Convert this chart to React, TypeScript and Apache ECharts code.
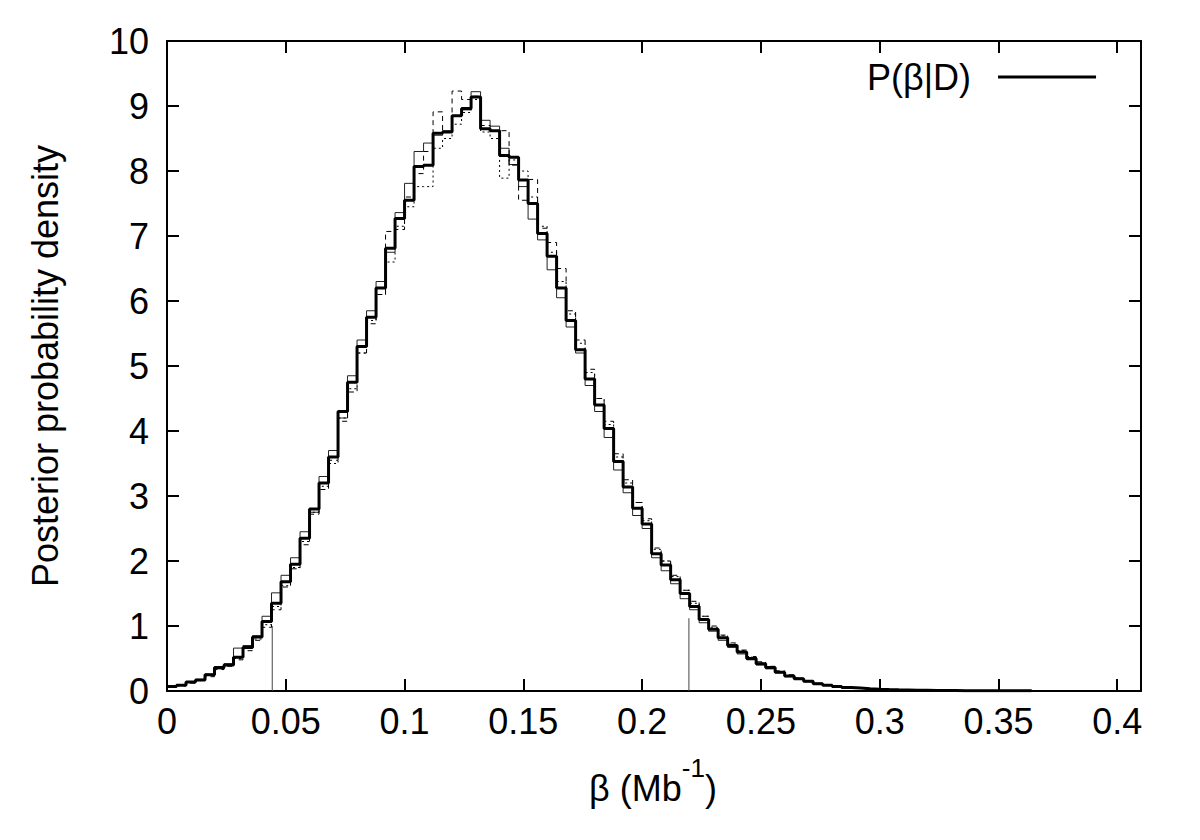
import React, { useEffect, useRef } from "react";
import * as echarts from "echarts";

// Histogram bin width (bins start at beta = 0)
const BIN_WIDTH = 0.004;

// Main posterior P(beta|D) (thick line), one value per bin
const POSTERIOR = [
  0.07, 0.09, 0.14, 0.17, 0.25, 0.36, 0.4, 0.52, 0.67, 0.83,
  1.07, 1.35, 1.68, 1.95, 2.35, 2.8, 3.2, 3.6, 4.3, 4.75,
  5.3, 5.75, 6.2, 6.81, 7.27, 7.55, 8.07, 8.09, 8.58, 8.6,
  8.85, 8.96, 9.14, 8.65, 8.62, 8.24, 8.21, 7.86, 7.5, 7.04,
  6.69, 6.2, 5.7, 5.25, 4.8, 4.4, 4.04, 3.53, 3.14, 2.81,
  2.57, 2.11, 1.94, 1.71, 1.5, 1.3, 1.1, 0.95, 0.82, 0.7,
  0.6, 0.5, 0.42, 0.36, 0.29, 0.23, 0.19, 0.15, 0.11, 0.09,
  0.07, 0.055, 0.045, 0.035, 0.028, 0.022, 0.018, 0.015, 0.012, 0.01,
  0.008, 0.007, 0.006, 0.005, 0.004, 0.004, 0.003, 0.003, 0.002, 0.002, 0.002,
];

// Thin solid run
const RUN_SOLID = [
  0.08, 0.1, 0.13, 0.18, 0.26, 0.34, 0.42, 0.66, 0.7, 0.85,
  1.15, 1.51, 1.78, 2.05, 2.45, 2.75, 3.3, 3.7, 4.2, 4.85,
  5.4, 5.85, 6.3, 6.75, 7.36, 7.81, 8.3, 8.43, 8.55, 8.62,
  8.85, 8.94, 9.22, 8.78, 8.69, 8.35, 8.1, 7.76, 7.26, 6.94,
  6.48, 6.05, 5.6, 5.2, 4.7, 4.3, 3.9, 3.4, 3.05, 2.7,
  2.5, 2.05, 1.85, 1.65, 1.42, 1.25, 1.05, 0.92, 0.78, 0.67,
  0.57, 0.48, 0.4, 0.34, 0.28, 0.22, 0.18, 0.14, 0.11, 0.085,
  0.065, 0.05, 0.04, 0.032, 0.025, 0.02, 0.016, 0.013, 0.011, 0.009,
  0.008, 0.007, 0.006, 0.005, 0.004, 0.003, 0.003, 0.002, 0.002, 0.002, 0.001,
];

// Dashed run
const RUN_DASHED = [
  0.06, 0.08, 0.12, 0.16, 0.22, 0.33, 0.38, 0.48, 0.62, 0.78,
  0.98, 1.25, 1.6, 1.88, 2.25, 2.72, 3.1, 3.55, 4.15, 4.6,
  5.2, 5.65, 6.1, 7.07, 7.1, 7.6, 7.96, 8.3, 8.91, 8.6,
  9.23, 9.1, 9.15, 8.7, 8.62, 8.62, 8.09, 7.55, 7.87, 7.12,
  6.9, 6.5, 5.85, 5.4, 4.95, 4.5, 4.15, 3.65, 3.25, 2.9,
  2.65, 2.2, 2.0, 1.78, 1.55, 1.38, 1.15, 1.0, 0.86, 0.74,
  0.63, 0.53, 0.45, 0.38, 0.31, 0.25, 0.2, 0.16, 0.12, 0.1,
  0.075, 0.06, 0.048, 0.038, 0.03, 0.024, 0.019, 0.016, 0.013, 0.011,
  0.009, 0.008, 0.007, 0.006, 0.005, 0.004, 0.004, 0.003, 0.003, 0.002, 0.002,
];

// Dotted run
const RUN_DOTTED = [
  0.07, 0.09, 0.14, 0.17, 0.24, 0.35, 0.41, 0.5, 0.66, 0.8,
  1.02, 1.3, 1.62, 1.9, 2.3, 2.75, 3.15, 3.5, 4.2, 4.65,
  5.2, 5.7, 6.1, 6.6, 7.15, 7.45, 7.76, 7.76, 8.35, 8.5,
  8.72, 8.9, 9.1, 8.6, 8.5, 7.89, 8.17, 8.0, 7.6, 7.15,
  6.75, 6.3, 5.8, 5.35, 4.9, 4.5, 4.1, 3.6, 3.2, 2.9,
  2.62, 2.18, 2.0, 1.76, 1.55, 1.35, 1.15, 0.98, 0.85, 0.72,
  0.62, 0.52, 0.44, 0.37, 0.3, 0.24, 0.2, 0.155, 0.12, 0.095,
  0.072, 0.058, 0.046, 0.036, 0.029, 0.023, 0.018, 0.015, 0.012, 0.01,
  0.008, 0.007, 0.006, 0.005, 0.004, 0.004, 0.003, 0.003, 0.002, 0.002, 0.002,
];

// Credible-interval bounds (thin vertical lines) and their heights
const CI_BOUNDS = [0.0443, 0.2197];
const CI_HEIGHTS = [1.0, 1.12];

const X_MIN = 0;
const X_MAX = 0.41;
const X_INTERVAL = 0.05;
const Y_MIN = 0;
const Y_MAX = 10;
const Y_INTERVAL = 1;

const FONT = "'Liberation Sans', Arial, Helvetica, sans-serif";
const FS = 36;

function stepData(values: number[]) {
  const pts: [number, number][] = values.map((v, i) => [
    Number((i * BIN_WIDTH).toFixed(4)),
    v,
  ]);
  pts.push([
    Number((values.length * BIN_WIDTH).toFixed(4)),
    values[values.length - 1],
  ]);
  return pts;
}

export default function App() {
  const ref = useRef<HTMLDivElement>(null);

  useEffect(() => {
    if (!ref.current) return;
    const chart = echarts.init(ref.current, undefined, { renderer: "svg" });

    const axisLine = { show: true, onZero: false, lineStyle: { color: "#000", width: 2 } };
    const axisTick = { show: true, inside: true, length: 12, lineStyle: { color: "#000", width: 2 } };
    const fmt = (v: number) => String(Number(v.toFixed(2)));

    const ciSeries = CI_BOUNDS.map((b, i) => ({
      name: "CI " + (i + 1),
      type: "line",
      data: [
        [b, 0],
        [b, CI_HEIGHTS[i]],
      ],
      symbol: "none",
      lineStyle: { color: "#444", width: 1 },
      itemStyle: { color: "#444" },
      z: 1,
      silent: true,
    }));

    chart.setOption({
      animation: false,
      backgroundColor: "#fff",
      grid: { left: 167, top: 41, width: 974, height: 650, containLabel: false },
      legend: {
        data: ["P(β|D)"],
        left: 862,
        top: 54,
        align: "right",
        icon: "rect",
        itemWidth: 98,
        itemHeight: 3,
        selectedMode: false,
        textStyle: {
          fontSize: FS,
          fontFamily: FONT,
          color: "#000",
          padding: [0, 22, 0, 0],
        },
      },
      xAxis: [
        {
          type: "value",
          position: "bottom",
          min: X_MIN,
          max: X_MAX,
          interval: X_INTERVAL,
          axisLine,
          axisTick,
          splitLine: { show: false },
          axisLabel: {
            show: true,
            margin: 12,
            color: "#000",
            fontSize: FS,
            fontFamily: FONT,
            formatter: fmt,
            showMaxLabel: false,
          },
        },
        {
          type: "value",
          position: "top",
          min: X_MIN,
          max: X_MAX,
          interval: X_INTERVAL,
          axisLine,
          axisTick,
          splitLine: { show: false },
          axisLabel: { show: false },
        },
      ],
      yAxis: [
        {
          type: "value",
          position: "left",
          min: Y_MIN,
          max: Y_MAX,
          interval: Y_INTERVAL,
          axisLine,
          axisTick,
          splitLine: { show: false },
          axisLabel: {
            show: true,
            margin: 18,
            color: "#000",
            fontSize: FS,
            fontFamily: FONT,
          },
        },
        {
          type: "value",
          position: "right",
          min: Y_MIN,
          max: Y_MAX,
          interval: Y_INTERVAL,
          axisLine,
          axisTick,
          splitLine: { show: false },
          axisLabel: { show: false },
        },
      ],
      series: [
        ...ciSeries,
        {
          name: "run 1",
          type: "line",
          step: "end",
          data: stepData(RUN_SOLID),
          symbol: "none",
          lineStyle: { color: "#222", width: 1 },
          itemStyle: { color: "#222" },
          z: 2,
        },
        {
          name: "run 2",
          type: "line",
          step: "end",
          data: stepData(RUN_DASHED),
          symbol: "none",
          lineStyle: { color: "#000", width: 1, type: [5, 4] },
          itemStyle: { color: "#000" },
          z: 2,
        },
        {
          name: "run 3",
          type: "line",
          step: "end",
          data: stepData(RUN_DOTTED),
          symbol: "none",
          lineStyle: { color: "#000", width: 1, type: [2, 3] },
          itemStyle: { color: "#000" },
          z: 2,
        },
        {
          name: "P(β|D)",
          type: "line",
          step: "end",
          data: stepData(POSTERIOR),
          symbol: "none",
          lineStyle: { color: "#000", width: 3 },
          itemStyle: { color: "#000" },
          z: 5,
        },
      ],
      graphic: [
        {
          type: "text",
          x: 45,
          y: 366,
          rotation: Math.PI / 2,
          style: {
            text: "Posterior probability density",
            fontSize: FS,
            fontFamily: FONT,
            fill: "#000",
            align: "center",
            verticalAlign: "middle",
          },
        },
        {
          type: "text",
          x: 653,
          y: 788,
          style: {
            text: "{b|β (Mb}{s|-1}{b|)}",
            fill: "#000",
            align: "center",
            verticalAlign: "middle",
            rich: {
              b: { fontSize: FS, fontFamily: FONT, fill: "#000", lineHeight: 67 },
              s: {
                fontSize: 26,
                fontFamily: FONT,
                fill: "#000",
                lineHeight: 27,
                padding: [0, 0, 40, 0],
              },
            },
          },
        },
      ],
    });

    return () => chart.dispose();
  }, []);

  return (
    <div
      ref={ref}
      style={{ position: "absolute", left: 0, top: 0, width: 1200, height: 840 }}
    />
  );
}
